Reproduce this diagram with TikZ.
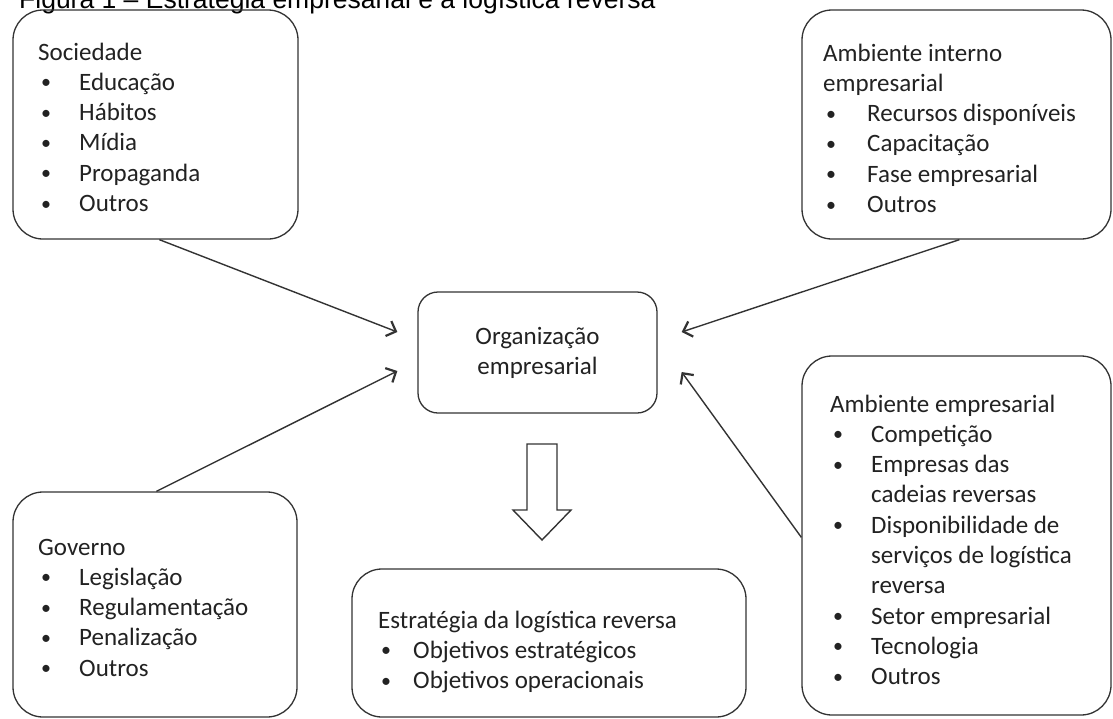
\documentclass[tikz,border=0pt]{standalone}
\usepackage{fontspec}
\setmainfont{Carlito}
\newfontfamily\titlefont{Liberation Sans}
\usetikzlibrary{arrows.meta}

\definecolor{ink}{HTML}{222222}
\definecolor{rule}{HTML}{333333}

% bullet column width, set per list
\newlength\bulw
\setlength\bulw{41pt}
\newcommand\bul{\makebox[\bulw][l]{\hspace{3pt}\raisebox{1.5pt}{\scalebox{0.8}{\textbullet}}}}
\newcommand\cont{\hspace*{\bulw}}

\tikzset{
  panel/.style={draw=rule, line width=1.3pt, rounded corners=30pt, inner sep=0pt},
  core/.style={draw=rule, line width=1.3pt, rounded corners=20pt, inner sep=0pt,
    align=center, font=\fontsize{25}{30}\selectfont, text=ink},
  listtext/.style={anchor=base west, inner sep=0pt, text=ink,
    font=\fontsize{25}{30.3}\selectfont},
  influence/.style={draw=rule, line width=1.4pt,
    -{Straight Barb[length=8pt,width=16pt,line width=2.2pt]}},
  hollow/.style={draw=rule, line width=1.4pt, fill=white, line join=miter}
}

\newcommand\listbox[2]{\parbox[t]{#1}{\raggedright #2}}

\begin{document}
\begin{tikzpicture}[x=1pt, y=-1pt]
  \useasboundingbox (0,0) rectangle (1113,718);
  \fill[white] (0,0) rectangle (1113,718);

  % caption
  \node[anchor=base west, inner sep=0pt, text=black,
        font=\fontsize{26.5}{30}\selectfont\titlefont] (title) at (19,8)
    {Figura 1 – Estratégia empresarial e a logística reversa};

  % frames
  \node[panel, minimum width=285pt, minimum height=229pt] (soc) at (155.5,124.5) {};
  \node[panel, minimum width=309pt, minimum height=229pt] (aint) at (956.5,124.5) {};
  \node[panel, minimum width=284pt, minimum height=225pt] (gov) at (155,604.5) {};
  \node[panel, minimum width=394pt, minimum height=148pt] (estr) at (549,643) {};
  \node[panel, minimum width=309pt, minimum height=359pt] (aemp) at (956.5,535.5) {};
  \node[core, minimum width=239pt, minimum height=121pt] (org) at (537.5,352.5)
    {Organização\\empresarial};

  % lists
  \node[listtext] (soctext) at (38,60) {\listbox{250pt}{%
    Sociedade\\
    \bul Educação\\
    \bul Hábitos\\
    \bul Mídia\\
    \bul Propaganda\\
    \bul Outros}};

  \node[listtext] (ainttext) at (823,61) {\setlength\bulw{44pt}\listbox{280pt}{%
    Ambiente interno\\
    empresarial\\
    \bul Recursos disponíveis\\
    \bul Capacitação\\
    \bul Fase empresarial\\
    \bul Outros}};

  \node[listtext] (govtext) at (38,555) {\listbox{250pt}{%
    Governo\\
    \bul Legislação\\
    \bul Regulamentação\\
    \bul Penalização\\
    \bul Outros}};

  \node[listtext] (estrtext) at (378,628) {\setlength\bulw{35pt}\listbox{360pt}{%
    Estratégia da logística reversa\\
    \bul Objetivos estratégicos\\
    \bul Objetivos operacionais}};

  \node[listtext] (aemptext) at (830,412) {\listbox{280pt}{%
    Ambiente empresarial\\
    \bul Competição\\
    \bul Empresas das\\
    \cont cadeias reversas\\
    \bul Disponibilidade de\\
    \cont serviços de logística\\
    \cont reversa\\
    \bul Setor empresarial\\
    \bul Tecnologia\\
    \bul Outros}};

  % influences on the organization
  \draw[influence] ([xshift=147pt]soc.south west) -- ([xshift=-20pt,yshift=20.5pt]org.west);
  \draw[influence] ([xshift=144pt]gov.north west) -- ([xshift=-20pt,yshift=-18.5pt]org.west);
  \draw[influence] ([xshift=158pt]aint.south west) -- ([xshift=24pt,yshift=20.5pt]org.east);
  \draw[influence] ([yshift=-182pt]aemp.north west) -- ([xshift=24pt,yshift=-19.5pt]org.east);

  % resulting strategy
  \draw[hollow] (527,444) -- (557,444) -- (557,510) -- (571,510) -- (542,540)
    -- (513,510) -- (527,510) -- cycle;
\end{tikzpicture}
\end{document}
